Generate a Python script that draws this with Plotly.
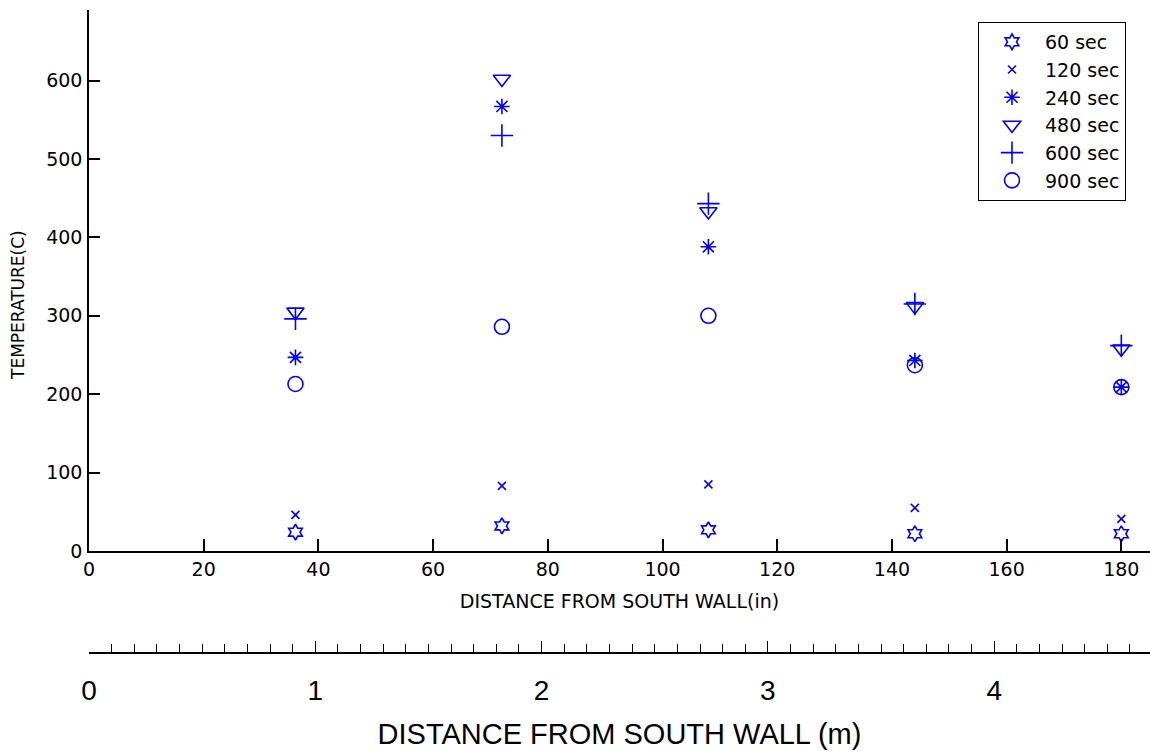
import plotly.graph_objects as go

# Data
distance_in = [36, 72, 108, 144, 180]
series_names = ["60 sec", "120 sec", "240 sec", "480 sec", "600 sec", "900 sec"]
temp_60 = [24, 32, 27, 22, 22]
temp_120 = [46, 83, 85, 55, 41]
temp_240 = [247, 567, 388, 243, 209]
temp_480 = [305, 602, 433, 312, 258]
temp_600 = [296, 530, 443, 315, 262]
temp_900 = [213, 286, 300, 237, 209]
x_ticks_in = [0, 20, 40, 60, 80, 100, 120, 140, 160, 180]
y_ticks = [0, 100, 200, 300, 400, 500, 600]
m_ticks = [0, 1, 2, 3, 4]

W, H = 1150, 751
BLUE = "#0000ff"
TICKFONT = dict(family="DejaVu Sans", size=19, color="black")

series = [temp_60, temp_120, temp_240, temp_480, temp_600, temp_900]
symbols = ["hexagram-open", "x-thin-open", "asterisk-open", "triangle-down-open", "cross-thin-open", "circle-open"]
sizes = [12, 8, 13, 15, 16, 15]

fig = go.Figure()
for name, vals, sym, sz in zip(series_names, series, symbols, sizes):
    fig.add_trace(go.Scatter(
        x=distance_in, y=vals, mode="markers", name=name,
        marker=dict(symbol=sym, size=sz, color=BLUE, line=dict(color=BLUE, width=1.6)),
    ))

# empty trace to activate the secondary metre axis
fig.add_trace(go.Scatter(x=[], y=[], xaxis="x2", yaxis="y", showlegend=False, hoverinfo="skip"))

x0_px, x_right = 89, 1150
y_bot, y_top = 551, 10
px_per_m = 226.3

fig.update_layout(
    width=W, height=H,
    margin=dict(l=0, r=0, t=0, b=0),
    paper_bgcolor="white", plot_bgcolor="white",
    showlegend=True,
    legend=dict(
        x=978 / W, y=1 - 22 / H, xanchor="left", yanchor="top",
        bgcolor="white", bordercolor="black", borderwidth=1,
        font=dict(family="DejaVu Sans", size=19, color="black"),
        itemwidth=56,
    ),
    xaxis=dict(
        domain=[x0_px / W, 1.0], anchor="y", automargin=False,
        range=[0, 185], tickvals=x_ticks_in, ticktext=[str(v) for v in x_ticks_in],
        ticks="inside", ticklen=12, tickwidth=1.5, tickcolor="black",
        showline=True, linecolor="black", linewidth=1.5,
        showgrid=False, zeroline=False, tickfont=TICKFONT, ticklabelstandoff=0,
        title=dict(text="DISTANCE FROM SOUTH WALL(in)", standoff=16,
                   font=dict(family="DejaVu Sans", size=19, color="black")),
    ),
    yaxis=dict(
        domain=[1 - y_bot / H, 1 - y_top / H], anchor="x", automargin=False,
        range=[0, 690], tickvals=y_ticks, ticktext=[str(v) for v in y_ticks],
        ticks="inside", ticklen=11, tickwidth=1.5, tickcolor="black",
        showline=True, linecolor="black", linewidth=1.5,
        showgrid=False, zeroline=False, tickfont=TICKFONT, ticklabelstandoff=1,
    ),
    xaxis2=dict(
        overlaying="x", anchor="free", position=1 - 653 / H, side="bottom", automargin=False,
        range=[0, (x_right - x0_px) / px_per_m], tickvals=m_ticks, ticktext=[str(v) for v in m_ticks],
        ticks="inside", ticklen=11, tickwidth=1.2, tickcolor="black",
        minor=dict(dtick=0.1, tick0=0, ticks="inside", ticklen=8, tickwidth=1.2, tickcolor="black"),
        showline=True, linecolor="black", linewidth=1.5,
        showgrid=False, zeroline=False, ticklabelstandoff=13,
        tickfont=dict(family="Liberation Sans", size=28, color="black"),
        title=dict(text="DISTANCE FROM SOUTH WALL (m)", standoff=17,
                   font=dict(family="Liberation Sans", size=29, color="black")),
    ),
    annotations=[dict(
        text="TEMPERATURE(C)", textangle=-90, showarrow=False,
        xref="paper", yref="paper", x=18 / W, y=1 - 305 / H,
        xanchor="center", yanchor="middle",
        font=dict(family="DejaVu Sans", size=17, color="black"),
    )],
)

fig.write_html("out.html")
